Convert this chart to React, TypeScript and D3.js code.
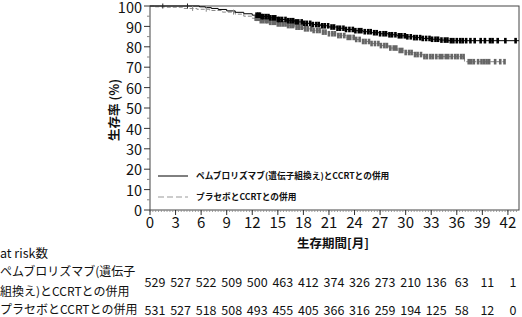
import React from "react";
import * as d3 from "d3";

const W = 522;
const H = 317;
const FONT = "'Noto Sans CJK JP', 'Noto Sans', sans-serif";

const xTicks = [0, 3, 6, 9, 12, 15, 18, 21, 24, 27, 30, 33, 36, 39, 42];
const yTicks = [0, 10, 20, 30, 40, 50, 60, 70, 80, 90, 100];

const pembroRisk = [529, 527, 522, 509, 500, 463, 412, 374, 326, 273, 210, 136, 63, 11, 1];
const placeboRisk = [531, 527, 518, 508, 493, 455, 405, 366, 316, 259, 194, 125, 58, 12, 0];

const seriesNames = ["ペムブロリズマブ(遺伝子組換え)とCCRTとの併用", "プラセボとCCRTとの併用"];

// KM step points [month, survival %]
const pembroTimes = [0, 5.8, 6.5, 7.2, 8, 9, 10, 11, 12, 13, 14, 15, 16, 17, 18, 19, 20, 21, 22, 23, 24, 25, 26, 27, 28, 29, 30, 31, 32, 33, 34, 35];
const pembroSurv = [100, 99.6, 99.2, 98.8, 98.3, 97.6, 96.9, 96.2, 95.5, 94.8, 94.2, 93.4, 92.8, 92.2, 91.5, 90.9, 90.3, 89.7, 89.1, 88.5, 87.9, 87.4, 86.9, 86.4, 85.9, 85.4, 84.9, 84.5, 84.1, 83.7, 83.3, 83.0];
const pembroEnd = 43.3;

const placeboTimes = [0, 0.5, 2, 4, 5.5, 7, 8.5, 10, 11, 12, 13, 14, 15, 16, 17, 18, 19, 20, 21, 22, 23, 24, 25, 26, 27, 28, 29, 30, 31, 32, 36.9];
const placeboSurv = [100, 99.6, 99.4, 98.8, 98.4, 97.8, 97.0, 96.0, 95.0, 94.0, 92.8, 92.0, 91.2, 90.4, 89.6, 88.8, 88.0, 87.2, 86.4, 85.5, 84.6, 83.6, 82.6, 81.6, 80.6, 79.4, 78.2, 77.2, 76.2, 75.2, 72.7];
const placeboEnd = 41.6;

// isolated early censor marks (thin) and dense censor marks
const pembroCensorEarly = [1.5, 4.4];
const pembroCensor = [12.5, 12.7, 12.9, 13.1, 13.3, 13.6, 13.9, 14.1, 14.4, 14.7, 15.0, 15.2, 15.5, 15.9, 16.2, 16.5, 16.8, 17.1, 17.4, 17.8, 18.1, 18.4, 18.8, 19.1, 19.5, 19.8, 20.2, 20.5, 20.9, 21.3, 21.6, 22.0, 22.3, 22.7, 23.0, 23.4, 23.8, 24.1, 24.5, 24.8, 25.2, 25.6, 25.9, 26.3, 26.6, 27.0, 27.4, 27.7, 28.1, 28.4, 28.8, 29.2, 29.5, 29.9, 30.2, 30.6, 31.0, 31.3, 31.7, 32.0, 32.4, 32.8, 33.1, 33.5, 33.8, 34.2, 34.6, 34.9, 35.3, 35.6, 36.0, 36.4, 36.7, 37.1, 37.6, 38.1, 38.8, 39.3, 39.9, 40.2, 40.8, 41.7, 42.9];
const placeboCensorEarly = [5.0, 6.6, 9.8];
const placeboCensor = [12.4, 12.6, 12.8, 13.0, 13.3, 13.6, 13.8, 14.1, 14.4, 14.7, 15.0, 15.3, 15.6, 15.9, 16.2, 16.5, 16.8, 17.2, 17.5, 17.8, 18.2, 18.5, 18.9, 19.2, 19.6, 19.9, 20.3, 20.6, 21.0, 21.4, 21.7, 22.1, 22.4, 22.8, 23.2, 23.5, 23.9, 24.2, 24.6, 25.0, 25.3, 25.7, 26.0, 26.4, 26.8, 27.1, 27.5, 27.8, 28.2, 28.6, 28.9, 29.3, 29.6, 30.0, 30.4, 30.7, 31.1, 31.4, 31.8, 32.2, 32.5, 32.9, 33.2, 33.6, 34.0, 34.3, 34.7, 35.0, 35.4, 35.8, 36.1, 36.5, 36.8, 37.4, 37.7, 38.0, 38.5, 38.9, 39.2, 39.5, 39.8, 40.5, 41.1, 41.6];

const x = d3.scaleLinear().domain([0, 43.3]).range([150, 519]);
const y = d3.scaleLinear().domain([0, 100]).range([210, 6]);

function stepValue(times: number[], surv: number[], t: number) {
  let v = surv[0];
  for (let i = 0; i < times.length; i++) if (times[i] <= t) v = surv[i];
  return v;
}

function stepPath(times: number[], surv: number[], end: number) {
  const pts: [number, number][] = times.map((t, i) => [t, surv[i]]);
  pts.push([end, surv[surv.length - 1]]);
  return d3.line<[number, number]>().x((d) => x(d[0])).y((d) => y(d[1])).curve(d3.curveStepAfter)(pts) || "";
}

function Censor({ times, surv, marks, color, width, half }: { times: number[]; surv: number[]; marks: number[]; color: string; width: number; half: number }) {
  return (
    <g>
      {marks.map((t, i) => {
        const yy = y(stepValue(times, surv, t));
        return <line key={i} x1={x(t)} x2={x(t)} y1={yy - half} y2={yy + half} stroke={color} strokeWidth={width} />;
      })}
    </g>
  );
}

export default function App() {
  const minorX = d3.range(0, 43.3, 1 / 3);
  const minorY = [5, 15, 25, 35, 45, 55, 65, 75, 85, 95];
  return (
    <svg width={W} height={H} style={{ position: "absolute", left: 0, top: 0, background: "#fff" }} fontFamily={FONT}>
      {/* frame */}
      <rect x={150} y={6} width={369} height={204} fill="none" stroke="#444" strokeWidth={1} />
      {/* y ticks */}
      {yTicks.map((v) => (
        <g key={"y" + v}>
          <line x1={144} x2={150} y1={y(v)} y2={y(v)} stroke="#333" />
          <text x={142} y={Math.max(y(v) + 1, 8)} dy="0.36em" textAnchor="end" fontSize={14.5} fill="#111">{v}</text>
        </g>
      ))}
      {minorY.map((v) => (
        <line key={"my" + v} x1={147} x2={150} y1={y(v)} y2={y(v)} stroke="#888" />
      ))}
      {/* x ticks */}
      {minorX.map((v, i) => (
        <line key={"mx" + i} x1={x(v)} x2={x(v)} y1={210} y2={212} stroke="#888" strokeWidth={0.8} />
      ))}
      {xTicks.map((v) => (
        <g key={"x" + v}>
          <line x1={x(v)} x2={x(v)} y1={210} y2={215} stroke="#333" />
          <text x={x(v)} y={223} dy="0.36em" textAnchor="middle" fontSize={15} fill="#111">{v}</text>
        </g>
      ))}
      {/* axis titles */}
      <text x={333} y={243} dy="0.36em" textAnchor="middle" fontSize={12.5} fontWeight="bold" fill="#111">生存期間[月]</text>
      <text transform={`translate(114,110) rotate(-90)`} textAnchor="middle" dy="0.36em" fontSize={12.5} fontWeight="bold" fill="#111">生存率 (%)</text>

      {/* curves */}
      <path d={stepPath(placeboTimes, placeboSurv, placeboEnd)} fill="none" stroke="#888" strokeWidth={1} strokeDasharray="4,2" />
      <path d={stepPath(pembroTimes, pembroSurv, pembroEnd)} fill="none" stroke="#000" strokeWidth={1} />
      <Censor times={placeboTimes} surv={placeboSurv} marks={placeboCensorEarly} color="#888" width={1} half={2.5} />
      <Censor times={pembroTimes} surv={pembroSurv} marks={pembroCensorEarly} color="#222" width={1} half={2.5} />
      <Censor times={placeboTimes} surv={placeboSurv} marks={placeboCensor} color="#666" width={2.6} half={2.8} />
      <Censor times={pembroTimes} surv={pembroSurv} marks={pembroCensor} color="#000" width={2.6} half={2.8} />

      {/* legend */}
      <line x1={158} x2={188} y1={176} y2={176} stroke="#000" strokeWidth={1} />
      <text x={196} y={176} dy="0.36em" fontSize={8.7} fontWeight="bold" fill="#111">{seriesNames[0]}</text>
      <line x1={158} x2={188} y1={197} y2={197} stroke="#999" strokeWidth={1.2} strokeDasharray="6,3" />
      <text x={196} y={197} dy="0.36em" fontSize={8.7} fontWeight="bold" fill="#111">{seriesNames[1]}</text>

      {/* at risk table */}
      <text x={0} y={253} dy="0.36em" fontSize={12.5} fill="#111">at risk数</text>
      <text x={0} y={272} dy="0.36em" fontSize={12} fill="#111">ペムブロリズマブ(遺伝子</text>
      <text x={0} y={292} dy="0.36em" fontSize={12} fill="#111">組換え)とCCRTとの併用</text>
      <text x={0} y={310} dy="0.36em" fontSize={12} fill="#111">{seriesNames[1]}</text>
      {pembroRisk.map((v, i) => (
        <text key={"r1" + i} x={x(xTicks[i]) + 5} y={282} dy="0.36em" textAnchor="middle" fontSize={12.5} fill="#111">{v}</text>
      ))}
      {placeboRisk.map((v, i) => (
        <text key={"r2" + i} x={x(xTicks[i]) + 5} y={310} dy="0.36em" textAnchor="middle" fontSize={12.5} fill="#111">{v}</text>
      ))}
    </svg>
  );
}
